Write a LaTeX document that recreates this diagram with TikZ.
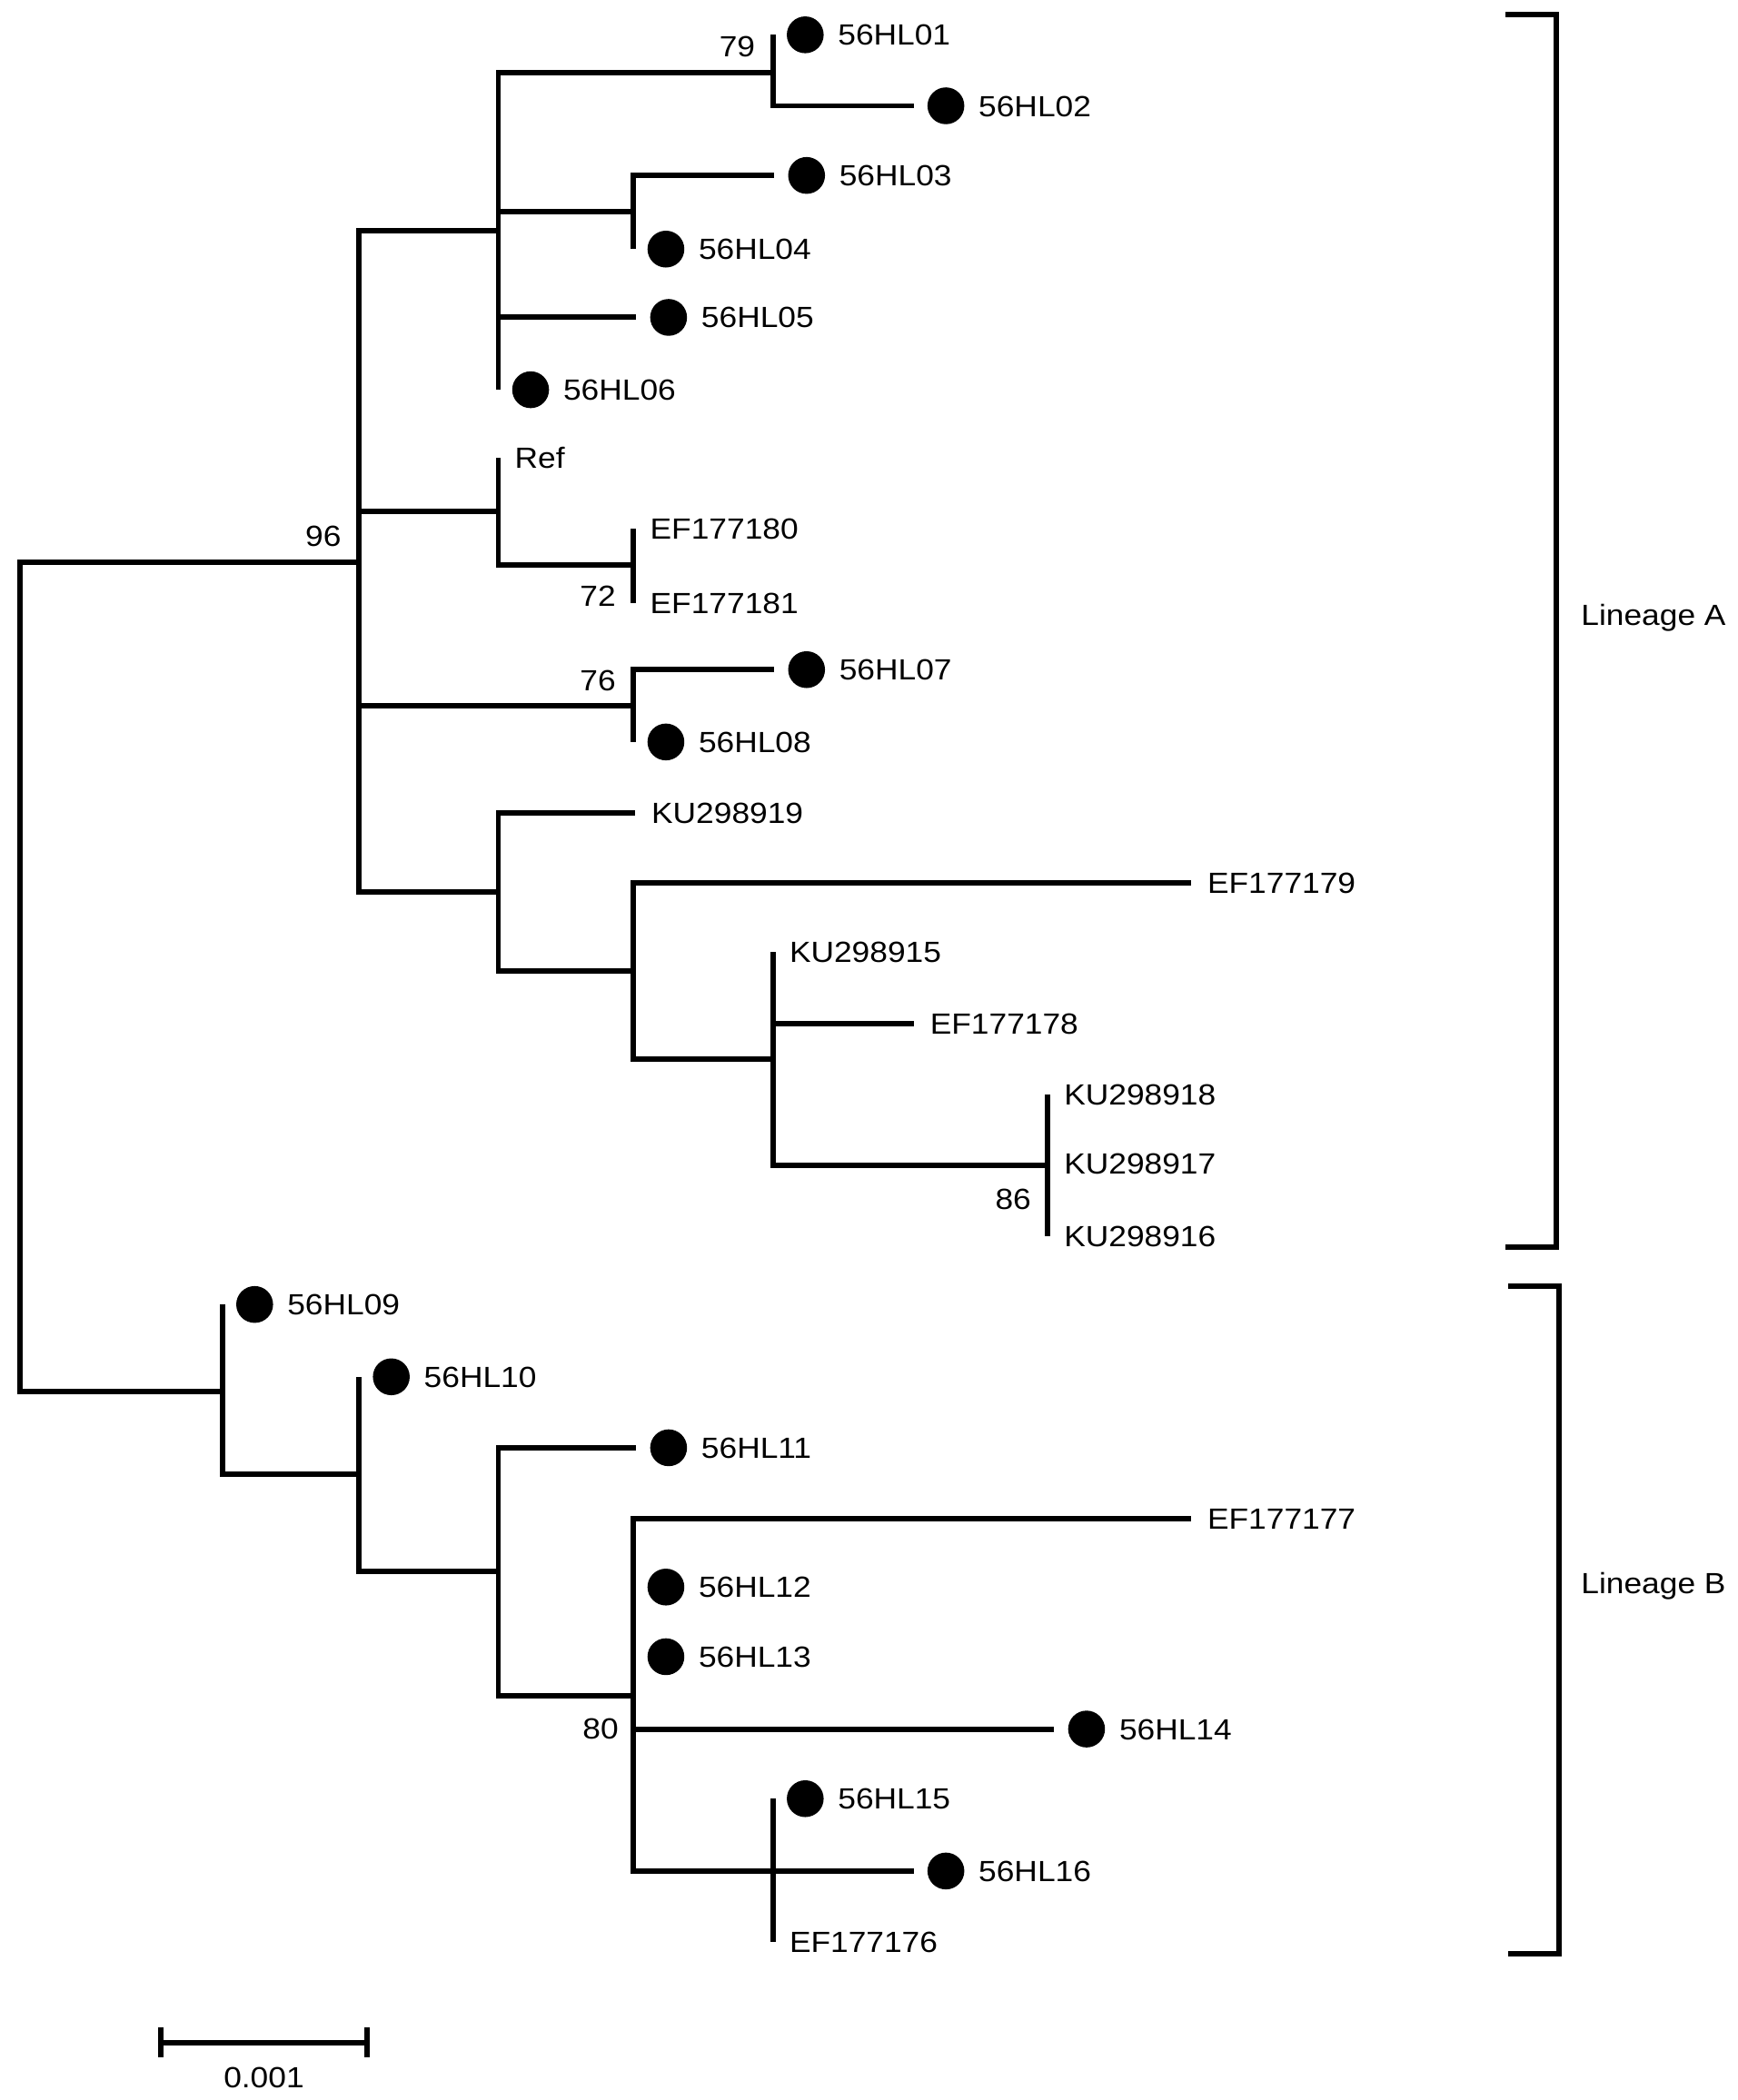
\documentclass[tikz,border=0pt]{standalone}
\usepackage{fontspec}
\setmainfont{Liberation Sans}[FakeStretch=1.1]
\usetikzlibrary{positioning}

\begin{document}
\begin{tikzpicture}[x=0.02cm,y=-0.02cm,
    branch/.style={line width=2.3pt},
    tipdot/.style={circle,fill,inner sep=0pt,minimum size=0.55cm},
    taxon/.style={inner sep=0pt,text height=8.9pt,text depth=0pt,font=\fontsize{12.4}{15}\selectfont},
    boot/.style={taxon}]
    \useasboundingbox (0,0) rectangle (1297,1568);

    \coordinate (root)  at (15,730);
    \coordinate (nA)    at (268,420);
    \coordinate (nT)    at (372,172);
    \coordinate (n79)   at (577,54);
    \coordinate (t01)   at (577,26);
    \coordinate (t02)   at (682,79);
    \coordinate (n34)   at (473,158);
    \coordinate (t03)   at (578,131);
    \coordinate (t04)   at (473,186);
    \coordinate (t05)   at (475,237);
    \coordinate (t06)   at (372,291);
    \coordinate (nR)    at (372,382);
    \coordinate (tRef)  at (372,342);
    \coordinate (n72)   at (473,422);
    \coordinate (tE80)  at (473,395);
    \coordinate (tE81)  at (473,450);
    \coordinate (n76)   at (473,527);
    \coordinate (t07)   at (578,500);
    \coordinate (t08)   at (473,554);
    \coordinate (nK)    at (372,666);
    \coordinate (tKU19) at (474,607);
    \coordinate (nE)    at (473,725);
    \coordinate (tE79)  at (889,659);
    \coordinate (nF)    at (577,791);
    \coordinate (tKU15) at (577,711);
    \coordinate (tE78)  at (682,764);
    \coordinate (n86)   at (782,870);
    \coordinate (tKU18) at (782,817);
    \coordinate (tKU17) at (782,869);
    \coordinate (tKU16) at (782,923);
    \coordinate (nB1)   at (166,1039);
    \coordinate (t09)   at (166,974);
    \coordinate (nB2)   at (268,1101);
    \coordinate (t10)   at (268,1028);
    \coordinate (nB3)   at (372,1173);
    \coordinate (t11)   at (475,1081);
    \coordinate (n80)   at (473,1266);
    \coordinate (tE77)  at (889,1134);
    \coordinate (t12)   at (473,1185);
    \coordinate (t13)   at (473,1237);
    \coordinate (t14)   at (787,1291);
    \coordinate (n1516) at (577,1397);
    \coordinate (t15)   at (577,1343);
    \coordinate (t16)   at (682,1397);
    \coordinate (tE76)  at (577,1450);

    \draw[branch] (root) |- (nA) (root) |- (nB1);
    \draw[branch] (nA) |- (nT) (nA) |- (nR) (nA) |- (n76) (nA) |- (nK);
    \draw[branch] (nT) |- (n79) (nT) |- (n34) (nT) |- (t05) (nT) |- (t06);
    \draw[branch] (n79) |- (t01) (n79) |- (t02);
    \draw[branch] (n34) |- (t03) (n34) |- (t04);
    \draw[branch] (nR) |- (tRef) (nR) |- (n72);
    \draw[branch] (n72) |- (tE80) (n72) |- (tE81);
    \draw[branch] (n76) |- (t07) (n76) |- (t08);
    \draw[branch] (nK) |- (tKU19) (nK) |- (nE);
    \draw[branch] (nE) |- (tE79) (nE) |- (nF);
    \draw[branch] (nF) |- (tKU15) (nF) |- (tE78) (nF) |- (n86);
    \draw[branch] (n86) |- (tKU18) (n86) |- (tKU16);
    \draw[branch] (nB1) |- (t09) (nB1) |- (nB2);
    \draw[branch] (nB2) |- (t10) (nB2) |- (nB3);
    \draw[branch] (nB3) |- (t11) (nB3) |- (n80);
    \draw[branch] (n80) |- (tE77) (n80) |- (t14) (n80) |- (n1516);
    \draw[branch] (n1516) |- (t15) (n1516) |- (t16) (n1516) |- (tE76);

    \node[tipdot,right=0.2cm of t01] (d01) {};
    \node[taxon,right=0.2cm of d01] (l01) {56HL01};
    \node[tipdot,right=0.2cm of t02] (d02) {};
    \node[taxon,right=0.2cm of d02] (l02) {56HL02};
    \node[tipdot,right=0.2cm of t03] (d03) {};
    \node[taxon,right=0.2cm of d03] (l03) {56HL03};
    \node[tipdot,right=0.2cm of t04] (d04) {};
    \node[taxon,right=0.2cm of d04] (l04) {56HL04};
    \node[tipdot,right=0.2cm of t05] (d05) {};
    \node[taxon,right=0.2cm of d05] (l05) {56HL05};
    \node[tipdot,right=0.2cm of t06] (d06) {};
    \node[taxon,right=0.2cm of d06] (l06) {56HL06};
    \node[tipdot,right=0.2cm of t07] (d07) {};
    \node[taxon,right=0.2cm of d07] (l07) {56HL07};
    \node[tipdot,right=0.2cm of t08] (d08) {};
    \node[taxon,right=0.2cm of d08] (l08) {56HL08};
    \node[tipdot,right=0.2cm of t09] (d09) {};
    \node[taxon,right=0.2cm of d09] (l09) {56HL09};
    \node[tipdot,right=0.2cm of t10] (d10) {};
    \node[taxon,right=0.2cm of d10] (l10) {56HL10};
    \node[tipdot,right=0.2cm of t11] (d11) {};
    \node[taxon,right=0.2cm of d11] (l11) {56HL11};
    \node[tipdot,right=0.2cm of t12] (d12) {};
    \node[taxon,right=0.2cm of d12] (l12) {56HL12};
    \node[tipdot,right=0.2cm of t13] (d13) {};
    \node[taxon,right=0.2cm of d13] (l13) {56HL13};
    \node[tipdot,right=0.2cm of t14] (d14) {};
    \node[taxon,right=0.2cm of d14] (l14) {56HL14};
    \node[tipdot,right=0.2cm of t15] (d15) {};
    \node[taxon,right=0.2cm of d15] (l15) {56HL15};
    \node[tipdot,right=0.2cm of t16] (d16) {};
    \node[taxon,right=0.2cm of d16] (l16) {56HL16};

    \node[taxon,right=0.24cm of tRef]  (lRef)  {Ref};
    \node[taxon,right=0.24cm of tE80]  (lE80)  {EF177180};
    \node[taxon,right=0.24cm of tE81]  (lE81)  {EF177181};
    \node[taxon,right=0.24cm of tKU19] (lKU19) {KU298919};
    \node[taxon,right=0.24cm of tE79]  (lE79)  {EF177179};
    \node[taxon,right=0.24cm of tKU15] (lKU15) {KU298915};
    \node[taxon,right=0.24cm of tE78]  (lE78)  {EF177178};
    \node[taxon,right=0.24cm of tKU18] (lKU18) {KU298918};
    \node[taxon,right=0.24cm of tKU17] (lKU17) {KU298917};
    \node[taxon,right=0.24cm of tKU16] (lKU16) {KU298916};
    \node[taxon,right=0.24cm of tE77]  (lE77)  {EF177177};
    \node[taxon,right=0.24cm of tE76]  (lE76)  {EF177176};

    \node[boot,above left=0.23cm and 0.26cm of nA]  (b96) {96};
    \node[boot,above left=0.23cm and 0.26cm of n79] (b79) {79};
    \node[boot,below left=0.30cm and 0.26cm of n72] (b72) {72};
    \node[boot,above left=0.22cm and 0.26cm of n76] (b76) {76};
    \node[boot,below left=0.34cm and 0.24cm of n86] (b86) {86};
    \node[boot,below left=0.33cm and 0.22cm of n80] (b80) {80};

    \coordinate (brA1) at (1124,11);
    \coordinate (brA2) at (1124,931);
    \coordinate (brB1) at (1126,960);
    \coordinate (brB2) at (1126,1459);
    \draw[branch] (brA1) -- ++(38,0) |- (brA2);
    \draw[branch] (brB1) -- ++(38,0) |- (brB2);
    \node[taxon,anchor=west] (linA) at (1180,459) {Lineage A};
    \node[taxon,anchor=west] (linB) at (1180,1182) {Lineage B};

    \coordinate (sb1) at (120,1525);
    \coordinate (sb2) at (274,1525);
    \draw[branch] (sb1) -- (sb2);
    \draw[branch] (sb1) ++(0,-11) -- ++(0,22) (sb2) ++(0,-11) -- ++(0,22);
    \node[taxon] (sbl) at (197,1551) {0.001};
\end{tikzpicture}
\end{document}
